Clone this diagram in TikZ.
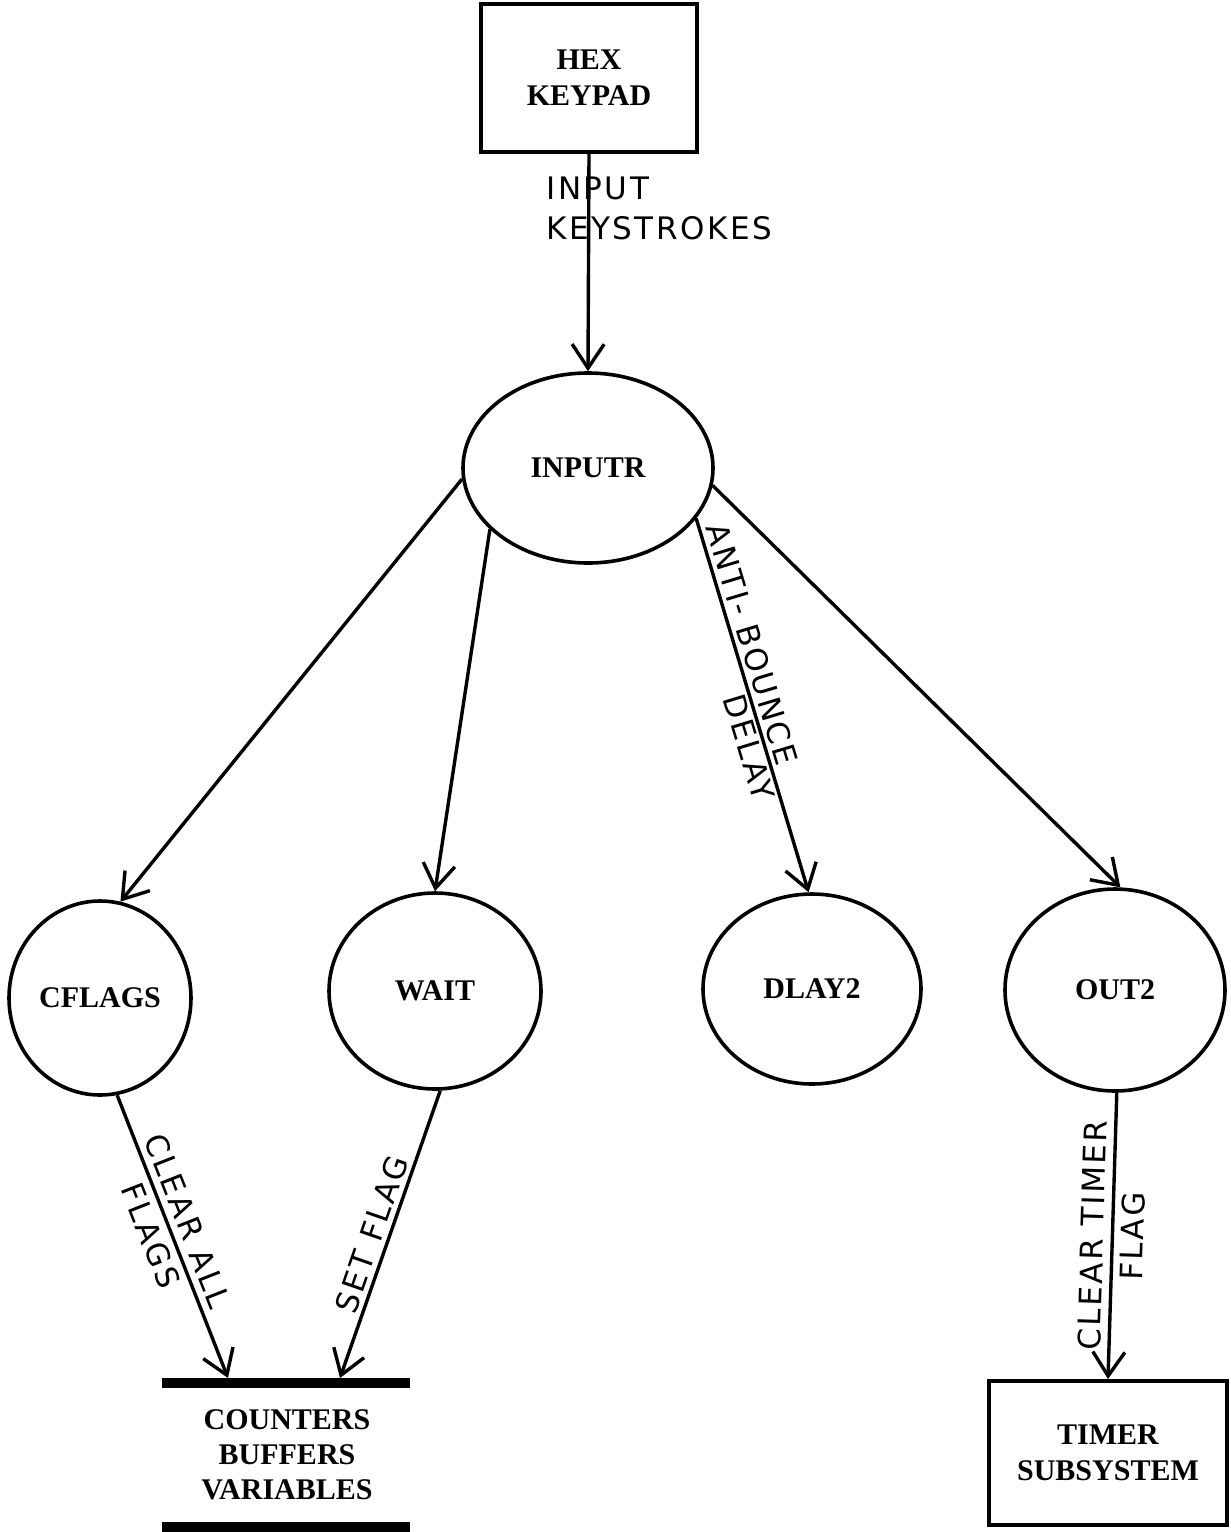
\documentclass[tikz,border=0pt]{standalone}
\usepackage{fontspec}
\setmainfont{Liberation Serif}
\newfontfamily\handfont[LetterSpace=8]{DejaVu Sans}
\usetikzlibrary{arrows.meta,shapes.geometric}

\begin{document}
\begin{tikzpicture}[x=0.5pt,y=-0.5pt,
  proc/.style={draw,ellipse,line width=1.8pt,inner sep=0pt,font=\fontsize{15}{17}\selectfont\bfseries},
  term/.style={draw,rectangle,line width=2pt,align=center,font=\fontsize{15}{18}\selectfont\bfseries},
  flow/.style={line width=1.7pt,-{Straight Barb[length=12pt,width=16pt]}},
  note/.style={font=\fontsize{15.5}{20}\selectfont\handfont,inner sep=2pt}]
  \useasboundingbox (0,0) rectangle (1231,1532);
  % external entities
  \node[term,minimum width=108pt,minimum height=74pt] (hex) at (589,78) {HEX\\KEYPAD};
  \node[term,minimum width=119pt,minimum height=72pt] (timer) at (1108,1453) {TIMER\\SUBSYSTEM};
  % processes
  \node[proc,minimum width=125pt,minimum height=95pt] (inputr) at (588,468) {INPUTR};
  \node[proc,minimum width=91pt,minimum height=97pt] (cflags) at (100,998) {CFLAGS};
  \node[proc,minimum width=106pt,minimum height=98pt] (wait) at (435,991) {WAIT};
  \node[proc,minimum width=109pt,minimum height=95pt] (dlay) at (812,989) {DLAY2};
  \node[proc,minimum width=110pt,minimum height=101pt] (out) at (1115,990) {OUT2};
  % data store
  \node[align=center,font=\fontsize{15}{17.5}\selectfont\bfseries] (store) at (287,1455) {COUNTERS\\BUFFERS\\VARIABLES};
  \coordinate (storeTL) at (162,1383);
  \coordinate (storeTR) at (410,1383);
  \coordinate (storeBL) at (162,1527);
  \coordinate (storeBR) at (410,1527);
  \coordinate (cin) at (228,1378);
  \coordinate (win) at (340,1378);
  \draw[line width=5pt] (storeTL) -- (storeTR);
  \draw[line width=5pt] (storeBL) -- (storeBR);
  % flows
  \draw[flow] (hex.south) -- node[note,pos=0.25,anchor=west,align=left,xshift=-24pt]{INPUT\\KEYSTROKES} (inputr.north);
  \draw[flow] (inputr.185) -- (cflags.78);
  \draw[flow] (inputr.212) -- (wait.90);
  \draw[flow] (inputr.335) -- node[note,sloped,above,pos=0.35]{ANTI- BOUNCE} node[note,sloped,below,pos=0.6,inner sep=1pt]{DELAY} (dlay.92);
  \draw[flow] (inputr.352) -- (out.87);
  \draw[flow] (cflags.280) -- node[note,sloped,align=center,pos=0.47]{CLEAR ALL\\FLAGS} (cin);
  \draw[flow] (wait.273) -- node[note,sloped,above,pos=0.52]{SET FLAG} (win);
  \draw[flow] (out.271) -- node[note,sloped,align=center]{CLEAR TIMER\\FLAG} (timer.north);
\end{tikzpicture}
\end{document}
